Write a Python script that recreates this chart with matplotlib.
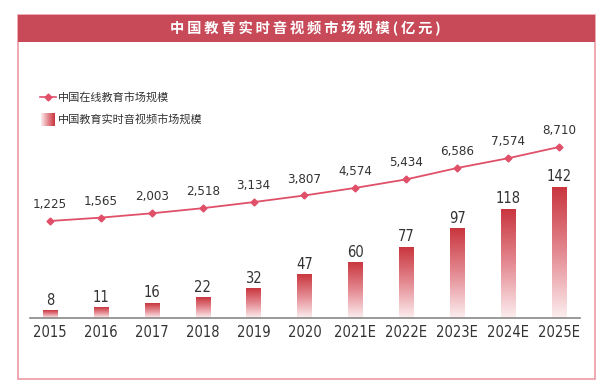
import numpy as np
import matplotlib.pyplot as plt
from matplotlib.colors import LinearSegmentedColormap
from matplotlib.patches import Rectangle

plt.rcParams['font.family'] = ['Noto Sans CJK SC', 'DejaVu Sans']

# data
years = ["2015", "2016", "2017", "2018", "2019", "2020",
         "2021E", "2022E", "2023E", "2024E", "2025E"]
online_edu = [1225, 1565, 2003, 2518, 3134, 3807, 4574, 5434, 6586, 7574, 8710]
rtc_edu = [8, 11, 16, 22, 32, 47, 60, 77, 97, 118, 142]

num_kw = dict(family='DejaVu Sans', fontstretch='condensed', color='#333333')

fig = plt.figure(figsize=(6, 3.84), dpi=100)

# outer frame and title band
W, H = 600, 384
fig.patches.append(Rectangle((18 / W, 1 - 379 / H), 577 / W, 364 / H,
                             transform=fig.transFigure, fill=False,
                             edgecolor='#EC9AA4', lw=1.2))
fig.patches.append(Rectangle((18 / W, 1 - 42 / H), 577 / W, 27 / H,
                             transform=fig.transFigure, facecolor='#C84A58',
                             edgecolor='none'))
title = "中国教育实时音视频市场规模(亿元)"
fig.text(305 / W, 1 - 28.5 / H, "\u2009".join(title), color='white',
         fontsize=10.3, fontweight='bold', ha='center', va='center',
         family=['Noto Sans CJK SC', 'DejaVu Sans'])

ax = fig.add_axes([30 / W, 1 - 318 / H, 550 / W, 188 / H])
x = np.arange(len(years))

cmap = LinearSegmentedColormap.from_list("bar", ["#FCEEEF", "#E48A92", "#C9363E"])
grad = np.linspace(0, 1, 256).reshape(-1, 1)
w = 0.28
for xi, v in zip(x, rtc_edu):
    ax.imshow(grad, extent=[xi - w / 2, xi + w / 2, 0, v], origin='lower',
              aspect='auto', cmap=cmap, zorder=2)
    ax.text(xi, v + 3, str(v), ha='center', va='bottom', fontsize=10.5, **num_kw)

ax.set_xlim(-0.39, 10.41)
ax.set_ylim(0, 204)
for s in ['top', 'right', 'left']:
    ax.spines[s].set_visible(False)
ax.spines['bottom'].set_color('#888888')
ax.spines['bottom'].set_linewidth(1.2)
ax.set_yticks([])
ax.set_xticks(x)
ax.set_xticklabels(years, fontsize=10.5, **num_kw)
ax.tick_params(axis='x', length=0, pad=5)

ax2 = ax.twinx()
ax2.plot(x, online_edu, color='#E05068', lw=1.3, marker='D', markersize=3.5, zorder=3)
for xi, v in zip(x, online_edu):
    ax2.text(xi, v + 1000, f"{v:,}", ha='center', va='bottom', fontsize=9.5, **num_kw)
ax2.set_ylim(-8583, 10426)
ax2.set_yticks([])
for s in ax2.spines.values():
    s.set_visible(False)
ax2.set_xlim(-0.39, 10.41)

# legend
fig.lines.append(plt.Line2D([40 / W, 48 / W, 56 / W], [1 - 97 / H] * 3,
                            transform=fig.transFigure, color='#E05068', lw=1.2,
                            marker='D', markersize=3.5, markevery=[1]))
fig.text(58 / W, 1 - 97 / H, "中国在线教育市场规模", fontsize=8, color='#333333',
         va='center')
lax = fig.add_axes([41 / W, 1 - 126 / H, 14 / W, 13 / H])
lax.imshow(np.linspace(0, 1, 64).reshape(1, -1), aspect='auto', cmap=cmap)
lax.axis('off')
fig.text(58 / W, 1 - 119.5 / H, "中国教育实时音视频市场规模", fontsize=8, color='#333333',
         va='center')

plt.savefig("out.png", dpi=100)
